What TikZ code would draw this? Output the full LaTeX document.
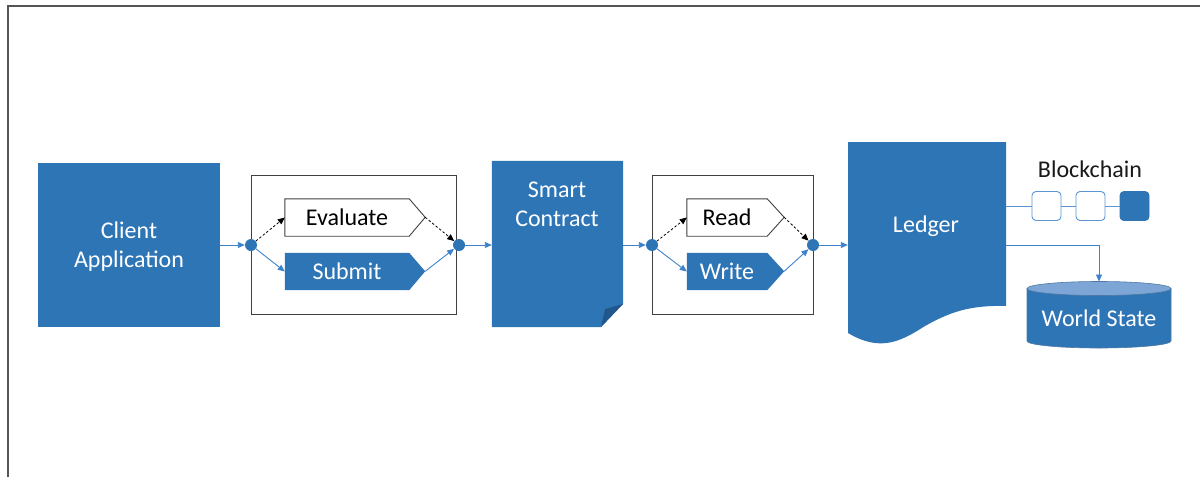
\documentclass[tikz,border=0pt]{standalone}
\usepackage{fontspec}
\setmainfont{Carlito}
\usetikzlibrary{arrows.meta,backgrounds,calc}
\definecolor{cblue}{RGB}{46,117,182}
\definecolor{cline}{RGB}{62,130,204}
\definecolor{clight}{RGB}{125,165,214}
\definecolor{cdark}{RGB}{33,88,140}
\definecolor{cframe}{RGB}{85,85,85}
\begin{document}
\begin{tikzpicture}[x=1pt,y=-1pt,
  font=\fontsize{24}{29}\selectfont,
  frame/.style={draw=cframe,line width=1.4pt},
  bluebox/.style={fill=cblue,draw=none,inner sep=0},
  grpbox/.style={draw=black!75,line width=0.9pt,fill=none,inner sep=0},
  lbl/.style={inner sep=0,text height=15.5,text depth=0},
  wlbl/.style={lbl,text=white},
  dot/.style={circle,fill=cblue,draw=none,minimum size=12,inner sep=0},
  arr/.style={draw=cline,line width=0.9pt,-{Triangle[length=7pt,width=6pt]}},
  darr/.style={draw=black,line width=0.8pt,dash pattern=on 2.5pt off 2pt,-{Triangle[length=7pt,width=6pt]}},
  chainline/.style={draw=cline!85,line width=0.9pt},
  blk/.style={draw=cline!85,line width=0.9pt,rounded corners=4pt,minimum width=29,minimum height=29,inner sep=0}
]
\useasboundingbox (0,0) rectangle (1200,477);
\draw[frame] (8,477) -- (8,6) -- (1200,6);

% Client application
\node[bluebox,minimum width=182,minimum height=164] (client) at (129,245) {};
\node[align=center,text=white,inner sep=0] (clientT) at (129,247) {Client\\Application};

% group box 1
\node[grpbox,minimum width=205,minimum height=139] (g1) at (353.5,244.5) {};
\node[dot] (d1l) at (251,245) {};
\node[dot] (d1r) at (459,245) {};
\node[lbl,minimum width=124,minimum height=37] (eval) at (347,217.5) {Evaluate};
\node[wlbl,minimum width=124,minimum height=37] (sub) at (347,271.5) {Submit};
\begin{scope}[on background layer]
\draw[draw=black!75,line width=0.9pt,fill=white] (eval.north west) -- (eval.north east) -- ++(16,18.5) coordinate (evaltip) -- (eval.south east) -- (eval.south west) -- cycle;
\fill[cblue] (sub.north west) -- (sub.north east) -- ++(16,18.5) coordinate (subtip) -- (sub.south east) -- (sub.south west) -- cycle;
\end{scope}

% Smart contract
\node[minimum width=131,minimum height=166,inner sep=0] (sc) at (557.5,244) {};
\begin{scope}[on background layer]
\fill[cblue] (sc.north west) -- (sc.north east) -- (623,304) -- (601,327) -- (sc.south west) -- cycle;
\fill[cdark] (623,304) -- (605,309) -- (601,327) -- cycle;
\end{scope}
\node[align=center,text=white,inner sep=0] (scT) at (557,204) {Smart\\Contract};

% group box 2
\node[grpbox,minimum width=161,minimum height=139] (g2) at (732.5,244.5) {};
\node[dot] (d2l) at (652,245) {};
\node[dot] (d2r) at (813,245) {};
\node[lbl,minimum width=80,minimum height=37] (read) at (727,217.5) {Read};
\node[wlbl,minimum width=80,minimum height=37] (write) at (727,271.5) {Write};
\begin{scope}[on background layer]
\draw[draw=black!75,line width=0.9pt,fill=white] (read.north west) -- (read.north east) -- ++(17,18.5) coordinate (readtip) -- (read.south east) -- (read.south west) -- cycle;
\fill[cblue] (write.north west) -- (write.north east) -- ++(17,18.5) coordinate (writetip) -- (write.south east) -- (write.south west) -- cycle;
\end{scope}

% Ledger
\node[minimum width=158,minimum height=204,inner sep=0] (ledger) at (927,244) {};
\begin{scope}[on background layer]
\fill[cblue] (848,142) -- (1006,142) -- (1006,306)
  .. controls (970,305) and (950,312) .. (925,326)
  .. controls (900,342) and (880,352) .. (848,333) -- cycle;
\end{scope}
\node[anchor=base,text=white,inner sep=0] (ledgerT) at (926,232) {Ledger};

% Blockchain
\node[anchor=base,text=black!90,inner sep=0] (bcT) at (1090,177) {Blockchain};
\coordinate (lb) at (1006,206);
\node[blk,fill=white] (b1) at (1046.5,206) {};
\node[blk,fill=white] (b2) at (1090.5,206) {};
\node[blk,fill=cblue,draw=cblue] (b3) at (1134.5,206) {};
\draw[chainline] (lb) -- (b1) (b1) -- (b2) (b2) -- (b3);

% World state
\node[minimum width=144,minimum height=66,inner sep=0] (ws) at (1099,315) {};
\begin{scope}[on background layer]
\draw[fill=cblue,draw=cdark!80,line width=0.6pt] (1027,288.5) -- (1027,341) arc[start angle=180,end angle=0,x radius=72,y radius=7] -- (1171,288.5) -- cycle;
\draw[fill=clight,draw=cdark!80,line width=0.6pt] (1099,288.5) ellipse [x radius=72,y radius=7];
\end{scope}
\node[anchor=base,text=white,inner sep=0] (wsT) at (1099,326) {World State};
\coordinate (lw) at (1006,245);
\coordinate (wstop) at (1099,281.5);

% connectors
\draw[arr] (client.east |- d1l) -- (d1l);
\draw[darr] (d1l) -- (eval.west);
\draw[arr] (d1l) -- (sub.west);
\draw[darr] (evaltip) -- (d1r);
\draw[arr] (subtip) -- (d1r);
\draw[arr] (d1r) -- (d1r -| sc.west);
\draw[arr] (sc.east |- d2l) -- (d2l);
\draw[darr] (d2l) -- (read.west);
\draw[arr] (d2l) -- (write.west);
\draw[darr] (readtip) -- (d2r);
\draw[arr] (writetip) -- (d2r);
\draw[arr] (d2r) -- (d2r -| ledger.west);
\draw[arr] (lw) -| (wstop);
\end{tikzpicture}
\end{document}
